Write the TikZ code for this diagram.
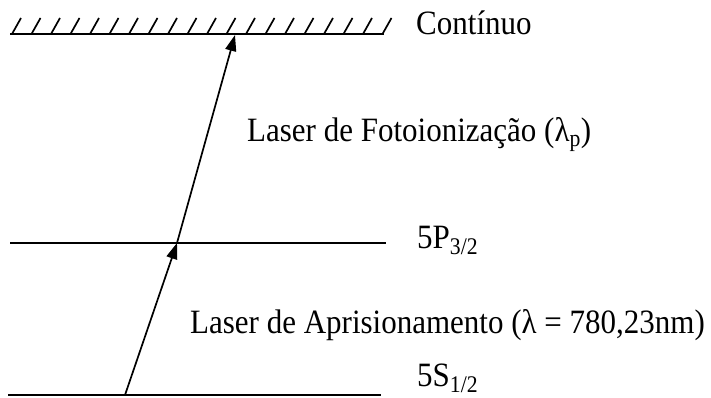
\documentclass[tikz,border=0pt]{standalone}
\usepackage{fontspec}
\setmainfont{Liberation Serif}
\usetikzlibrary{arrows.meta}
\newcommand{\tallt}[1]{\scalebox{1}[1.1]{#1}}
\begin{document}
\begin{tikzpicture}[x=1pt,y=-1pt,
  level/.style={line width=2pt},
  hatch/.style={line width=1.7pt},
  trans/.style={line width=1.7pt,-{Triangle[length=16pt,width=11pt]}},
  lbl/.style={font=\fontsize{31}{34}\selectfont,inner sep=0pt,anchor=base west}]
\useasboundingbox (0,0) rectangle (711,398);
% continuum
\coordinate (c0) at (10,34);
\coordinate (c1) at (384,34);
\draw[level] (c0) -- (c1);
\foreach \i in {0,...,19}{
  \draw[hatch] (12+19.5*\i,34) -- (21+19.5*\i,18);
}
\node[lbl] (cont) at (416,35) {\tallt{Contínuo}};
% levels
\coordinate (p0) at (10,243);
\coordinate (p1) at (386,243);
\draw[level] (p0) -- (p1);
\node[lbl] (pl) at (417,248) {\tallt{5P\textsubscript{3/2}}};
\coordinate (s0) at (8,395);
\coordinate (s1) at (381,395);
\draw[level] (s0) -- (s1);
\node[lbl] (sl) at (417,386) {\tallt{5S\textsubscript{1/2}}};
% transitions
\coordinate (a0) at (125,395);
\coordinate (a1) at (177,243);
\coordinate (a2) at (235,35);
\draw[trans] (a0) -- (a1);
\draw[trans] (a1) -- (a2);
\node[lbl] (l1) at (247,142) {\tallt{Laser de Fotoionização (λ\textsubscript{p})}};
\node[lbl] (l2) at (190,333) {\tallt{Laser de Aprisionamento (λ = 780,23nm)}};
\end{tikzpicture}
\end{document}
